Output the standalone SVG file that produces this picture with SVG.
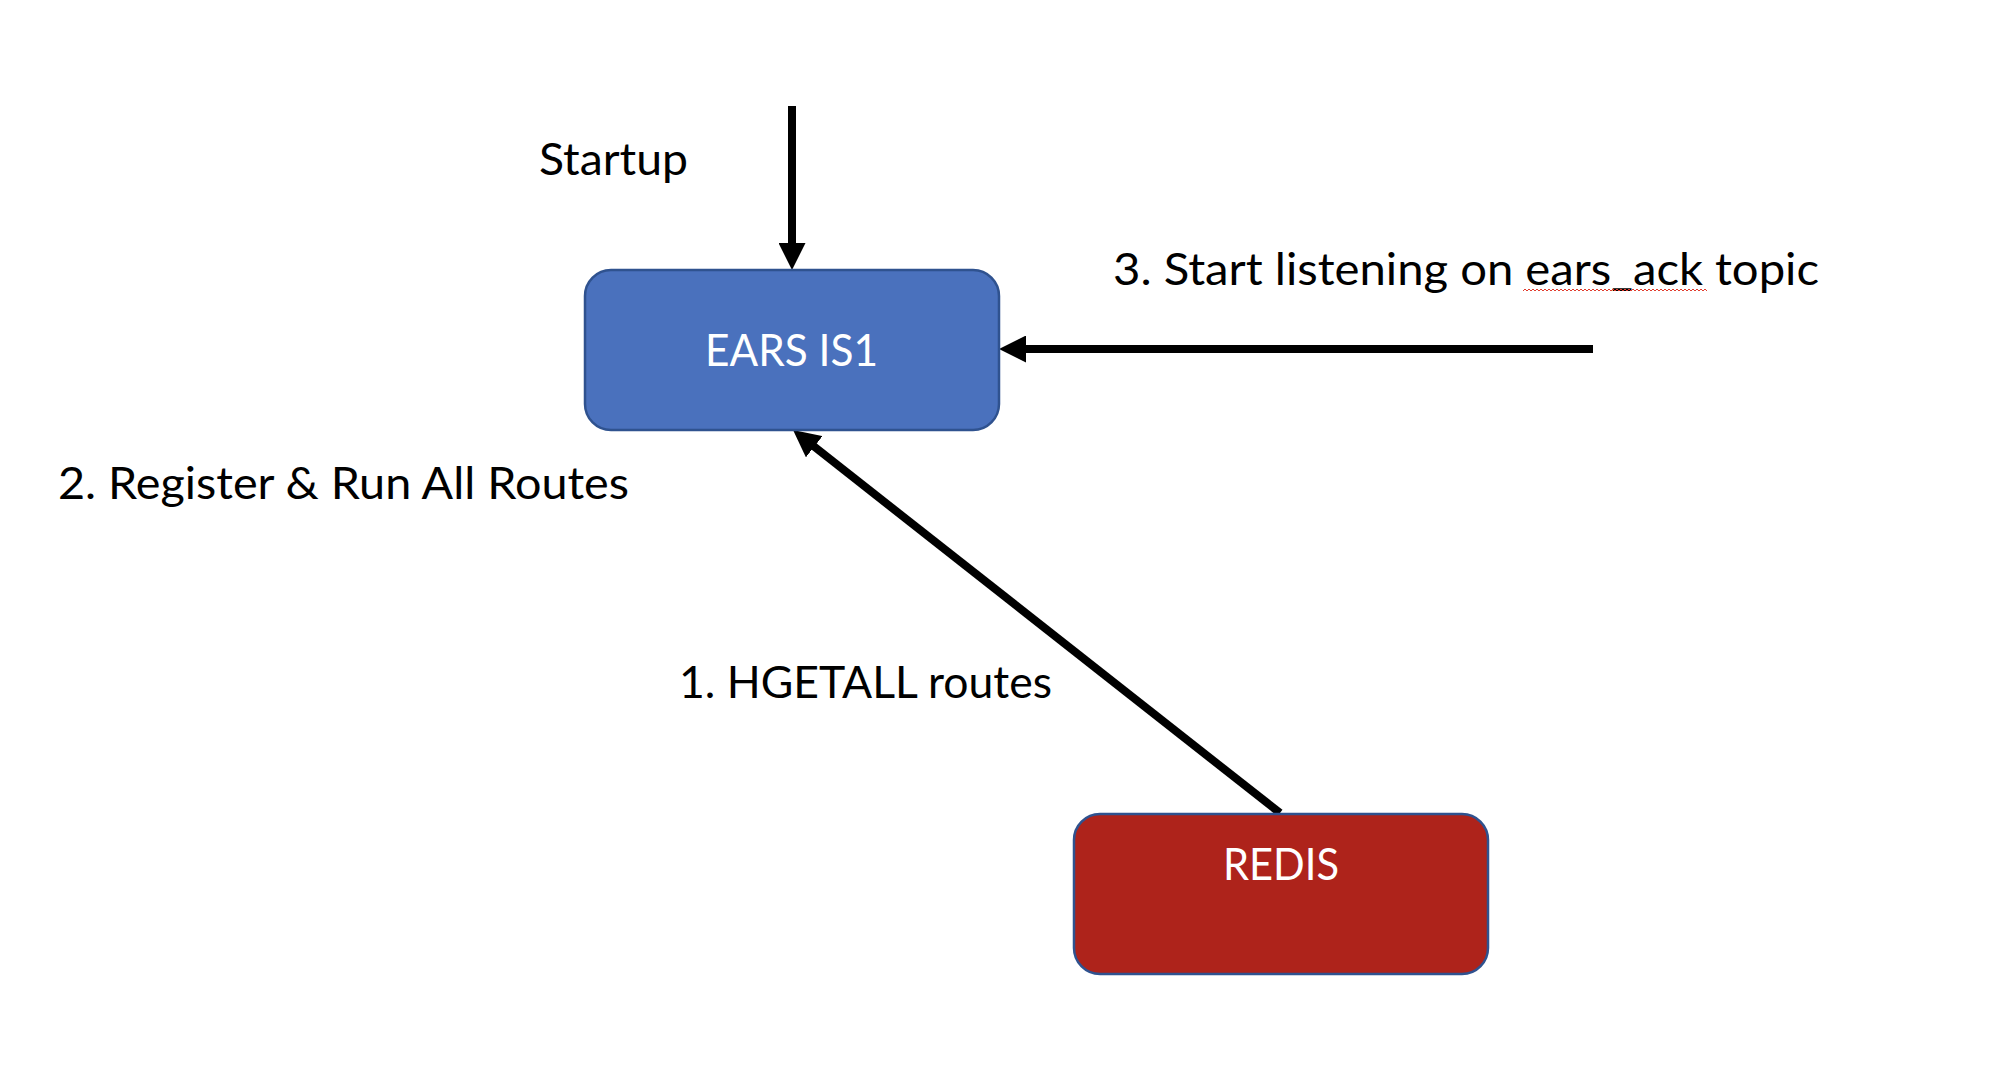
<svg xmlns="http://www.w3.org/2000/svg" width="1990" height="1084" viewBox="0 0 1990 1084">
<style>
.lbl{font-family:Lato,"Open Sans","Liberation Sans",sans-serif;font-size:45px;fill:#000}
.nlbl{font-family:Lato,"Open Sans","Liberation Sans",sans-serif;font-size:45px;fill:#fff}
.conn{stroke:#000;stroke-width:8;fill:none;marker-end:url(#ah)}
.box{stroke:#2F528F;stroke-width:2.5}
</style>
<defs>
<marker id="ah" markerUnits="userSpaceOnUse" viewBox="0 0 27 27" markerWidth="27" markerHeight="27" refX="17" refY="13.5" orient="auto">
<path d="M0,0 L27,13.5 L0,27 z" fill="#000"/>
</marker>
<pattern id="squig" patternUnits="userSpaceOnUse" x="1523" y="288" width="4" height="4">
<polyline points="0,3 2,1 4,3" fill="none" stroke="#E03C2E" stroke-width="1"/>
</pattern>
</defs>
<rect width="1990" height="1084" fill="#fff"/>
<g id="connectors">
<line class="conn" x1="792" y1="106" x2="792" y2="260"/>
<line class="conn" x1="1593" y1="349" x2="1009" y2="349"/>
<line class="conn" x1="1280" y1="813" x2="800.9" y2="436.2"/>
</g>
<g id="ears">
<rect class="box" x="585" y="270" width="414" height="160" rx="26" ry="26" fill="#4A71BD"/>
<text class="nlbl" x="705" y="366" textLength="173" lengthAdjust="spacingAndGlyphs">EARS IS1</text>
</g>
<g id="redis">
<rect class="box" x="1074" y="814" width="414" height="160" rx="26" ry="26" fill="#AE231B"/>
<text class="nlbl" x="1223" y="880" textLength="116" lengthAdjust="spacingAndGlyphs">REDIS</text>
</g>
<g id="labels">
<text class="lbl" x="539" y="175" textLength="149" lengthAdjust="spacingAndGlyphs">Startup</text>
<text class="lbl" x="1113" y="285" textLength="706" lengthAdjust="spacingAndGlyphs">3. Start listening on ears_ack topic</text>
<rect x="1523" y="288" width="184" height="4" fill="url(#squig)"/>
<text class="lbl" x="58" y="499" textLength="571" lengthAdjust="spacingAndGlyphs">2. Register &amp; Run All Routes</text>
<text class="lbl" x="679" y="698" textLength="373" lengthAdjust="spacingAndGlyphs">1. HGETALL routes</text>
</g>
</svg>
